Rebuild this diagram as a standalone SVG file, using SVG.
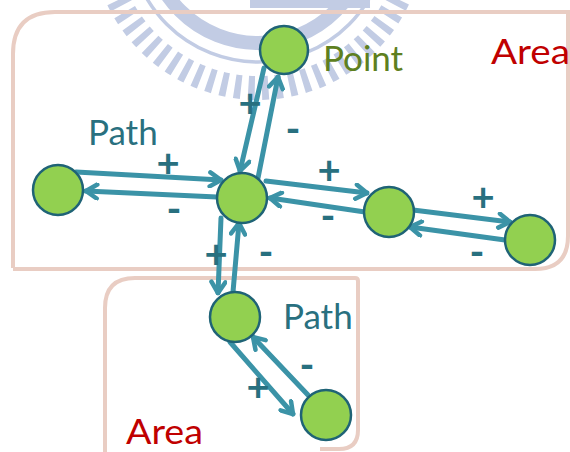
<svg xmlns="http://www.w3.org/2000/svg" width="570" height="452" viewBox="0 0 570 452">
  <defs>
    <style>
      .area { fill: none; stroke: #e9cdc3; stroke-width: 4; }
      .node { fill: #92d050; stroke: #1f6376; stroke-width: 2.5; }
      .link { fill: none; stroke: #3b93a7; stroke-width: 5; stroke-linecap: round; }
      .sign { fill: #28707f; font-family: Lato, "Liberation Sans", sans-serif; font-weight: bold; text-anchor: middle; font-size: 40px; }
      .label { font-family: Lato, "Open Sans", "Liberation Sans", sans-serif; font-size: 35px; }
      .mark { fill: none; stroke: #c2cce4; }
    </style>
    <marker id="chev" viewBox="-14 -9 16 18" markerWidth="16" markerHeight="18" refX="0" refY="0" orient="auto" markerUnits="userSpaceOnUse">
      <path d="M -11 -7 L 0 0 L -11 7" fill="none" stroke="#3b93a7" stroke-width="4.5" stroke-linecap="round" stroke-linejoin="round"/>
    </marker>
  </defs>

  <!-- background emblem -->
  <g id="emblem">
    <circle class="mark" cx="258" cy="-67" r="155" stroke-width="24" stroke-dasharray="6.5 7.2"/>
    <circle class="mark" cx="258" cy="-67" r="129" stroke-width="3.5"/>
    <circle class="mark" cx="258" cy="-67" r="110" stroke-width="14"/>
    <rect x="250" y="0" width="120" height="8" fill="#c2cce4"/>
  </g>

  <!-- areas -->
  <g id="area-top">
    <path class="area" d="M 13 268 L 13 54 Q 13 12 55 12 L 572 12 M 568 12 L 568 236 Q 568 269 535 269 L 13 269"/>
  </g>
  <g id="area-bottom">
    <path class="area" d="M 105 455 L 105 308 Q 105 278 135 278 L 355 278 Q 358 278 358 281 L 358 430 Q 358 449 339 449 L 320 449"/>
  </g>

  <!-- connectors -->
  <g id="links">
    <line class="link" x1="76" y1="172" x2="221" y2="180" marker-end="url(#chev)"/>
    <line class="link" x1="217" y1="197" x2="86" y2="191" marker-end="url(#chev)"/>

    <line class="link" x1="264" y1="68" x2="240" y2="171" marker-end="url(#chev)"/>
    <line class="link" x1="258" y1="178" x2="278" y2="77" marker-end="url(#chev)"/>

    <line class="link" x1="266" y1="181" x2="367" y2="193" marker-end="url(#chev)"/>
    <line class="link" x1="365" y1="212" x2="270" y2="198" marker-end="url(#chev)"/>

    <line class="link" x1="413" y1="210" x2="510" y2="222" marker-end="url(#chev)"/>
    <line class="link" x1="505" y1="240" x2="410" y2="227" marker-end="url(#chev)"/>

    <line class="link" x1="221" y1="218" x2="218" y2="293" marker-end="url(#chev)"/>
    <line class="link" x1="233" y1="292" x2="239" y2="223" marker-end="url(#chev)"/>

    <line class="link" x1="230" y1="342" x2="293" y2="414" marker-end="url(#chev)"/>
    <line class="link" x1="308" y1="395" x2="253" y2="337" marker-end="url(#chev)"/>
  </g>

  <!-- nodes -->
  <g id="node-point"><circle class="node" cx="284" cy="50" r="24"/></g>
  <g id="node-left"><circle class="node" cx="58" cy="190" r="25"/></g>
  <g id="node-center"><circle class="node" cx="242" cy="198" r="25"/></g>
  <g id="node-right"><circle class="node" cx="389" cy="212" r="25"/></g>
  <g id="node-far-right"><circle class="node" cx="530" cy="240" r="25"/></g>
  <g id="node-lower"><circle class="node" cx="235" cy="317" r="25"/></g>
  <g id="node-bottom"><circle class="node" cx="326" cy="415" r="25"/></g>

  <!-- signs on connectors -->
  <g id="signs">
    <text class="sign" x="168" y="177">+</text>
    <text class="sign" x="174" y="223">-</text>
    <text class="sign" x="250" y="117">+</text>
    <text class="sign" x="293" y="143">-</text>
    <text class="sign" x="329" y="184">+</text>
    <text class="sign" x="328" y="230">-</text>
    <text class="sign" x="483" y="211">+</text>
    <text class="sign" x="477" y="266">-</text>
    <text class="sign" x="216" y="268">+</text>
    <text class="sign" x="266" y="266">-</text>
    <text class="sign" x="258" y="401">+</text>
    <text class="sign" x="307" y="379">-</text>
  </g>

  <!-- labels -->
  <g id="labels">
    <text class="label" x="323" y="71" fill="#5e7f20">Point</text>
    <text class="label" x="491" y="64" fill="#c00000" textLength="79" lengthAdjust="spacingAndGlyphs">Area</text>
    <text class="label" x="88" y="145" fill="#29707f">Path</text>
    <text class="label" x="283" y="329" fill="#29707f">Path</text>
    <text class="label" x="126" y="444" fill="#c00000" textLength="77" lengthAdjust="spacingAndGlyphs">Area</text>
  </g>
</svg>
